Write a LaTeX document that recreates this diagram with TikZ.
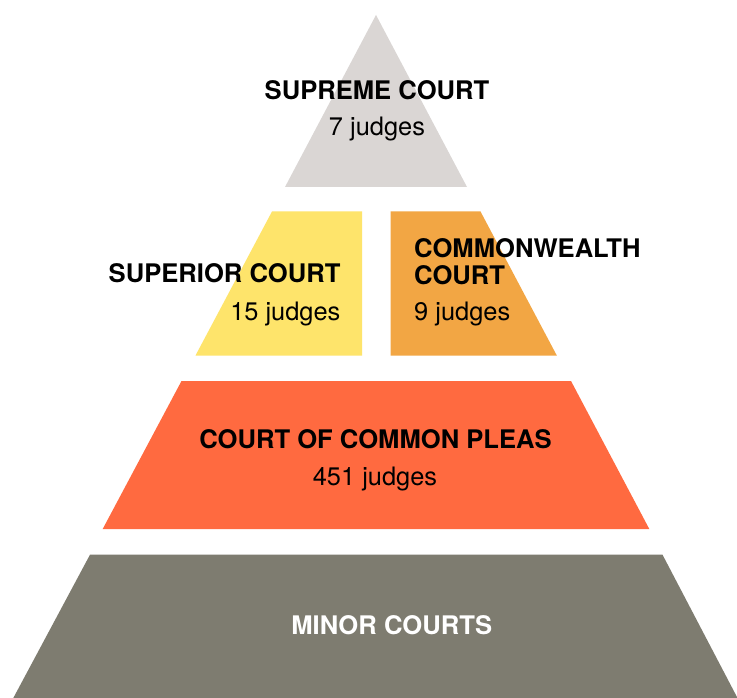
\documentclass[tikz,border=0pt]{standalone}
\usepackage{fontspec}
\setmainfont{TeX Gyre Heros}
\definecolor{supremec}{RGB}{218,214,212}
\definecolor{superiorc}{RGB}{254,228,107}
\definecolor{commonc}{RGB}{242,166,68}
\definecolor{pleasc}{RGB}{255,106,64}
\definecolor{minorc}{RGB}{126,124,112}
\tikzset{
  ttl/.style={inner sep=0pt, font=\fontsize{25.6}{26}\selectfont\bfseries, text=black},
  cnt/.style={inner sep=0pt, font=\fontsize{25.4}{26}\selectfont, text=black}
}
\begin{document}
\begin{tikzpicture}[x=1pt,y=-1pt]
\useasboundingbox (0,0) rectangle (737,698);
\fill[white] (0,0) rectangle (737,698);
% tiers
\fill[supremec] (376,15) -- (467,187) -- (285,187) -- cycle;
\fill[superiorc] (272,211.5) -- (362,211.5) -- (362,355.5) -- (195.5,355.5) -- cycle;
\fill[commonc] (390.5,211.5) -- (480.5,211.5) -- (556.8,355.5) -- (390.5,355.5) -- cycle;
\fill[pleasc] (181.5,381) -- (571,381) -- (649.3,529) -- (102.7,529) -- cycle;
\fill[minorc] (90,554.7) -- (662.5,554.7) -- (737.5,698) -- (13.3,698) -- cycle;
% labels
\node[ttl, anchor=base] (supt) at (377,100) {SUPREME COURT};
\node[cnt, anchor=base] (supn) at (377,136) {7 judges};
\node[ttl, anchor=base east] (supert) at (340.6,283) {SUPERIOR COURT};
\node[cnt, anchor=base east] (supern) at (340.6,320) {15 judges};
\node[ttl, anchor=base west] (comt1) at (414,258) {COMMONWEALTH};
\node[ttl, anchor=base west] (comt2) at (414,284) {COURT};
\node[cnt, anchor=base west] (comn) at (414,320.5) {9 judges};
\node[ttl, anchor=base] (pleat) at (375.5,448) {COURT OF COMMON PLEAS};
\node[cnt, anchor=base] (plean) at (375,485) {451 judges};
\node[ttl, anchor=base, text=white] (minort) at (391.7,634.3) {MINOR COURTS};
\end{tikzpicture}
\end{document}
